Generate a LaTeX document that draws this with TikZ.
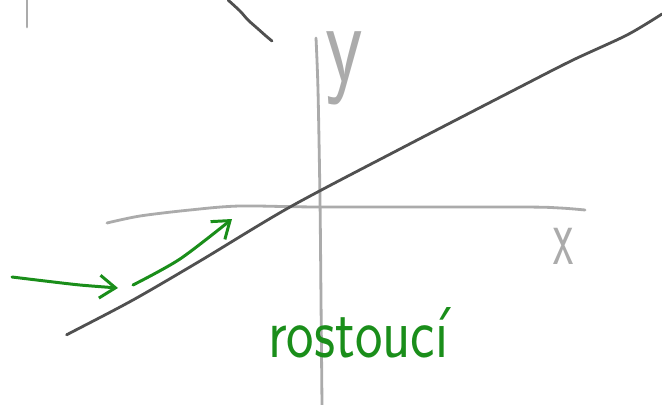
\documentclass[tikz,border=0pt]{standalone}
\usepackage{fontspec}
\usepackage{tikz}
\usetikzlibrary{arrows.meta}
\definecolor{axisgray}{HTML}{ABABAB}
\definecolor{linegray}{HTML}{505050}
\definecolor{pengreen}{HTML}{1A8E1A}

\begin{document}
\begin{tikzpicture}[x=0.02cm,y=-0.02cm,line cap=round,line join=round,
    axisline/.style={axisgray,line width=1.6pt},
    graphline/.style={linegray,line width=1.6pt},
    greenarrow/.style={pengreen,line width=1.7pt,-{Straight Barb[length=9pt,width=13pt,line width=1.7pt]}}]
  \useasboundingbox (0,0) rectangle (662,405);
  \draw[axisline] (27,0) -- (27,27);
  \draw[graphline] plot[smooth] coordinates {(228,0) (240,11) (248,20) (257,28) (266,36) (272,41)};
  \draw[axisline] plot[smooth] coordinates {(316,38) (318,90) (320,200) (321,300) (322,405)};
  \draw[axisline] plot[smooth] coordinates {(107,223) (140,216) (190,210) (240,206) (320,207) (520,207) (560,208) (585,210)};
  \draw[graphline] plot[smooth] coordinates {(68,334) (72,332) (133,300) (200,261) (290,207) (400,149) (520,87) (573,60) (627,35) (662,14)};
  \draw[greenarrow] plot[smooth] coordinates {(12,277) (45,281) (80,285) (118,288)};
  \draw[greenarrow] plot[smooth] coordinates {(133,285) (180,259) (232,219)};
  \node[axisgray,font=\sffamily\fontsize{66}{66}\selectfont,xscale=0.75,inner sep=0pt,anchor=base] (ylab) at (344,82) {y};
  \node[axisgray,font=\sffamily\fontsize{48}{48}\selectfont,xscale=0.55] (xlab) at (564,246) {x};
  \node[pengreen,font=\sffamily\fontsize{41}{41}\selectfont,xscale=0.81,anchor=base west,inner sep=0pt] (word) at (268,357) {rostoucí};
\end{tikzpicture}
\end{document}
